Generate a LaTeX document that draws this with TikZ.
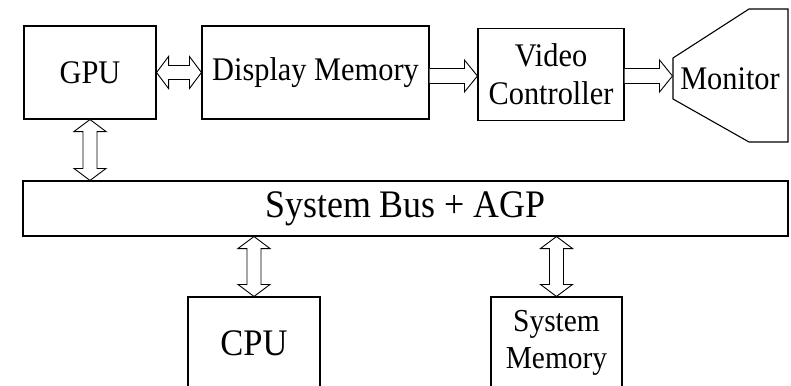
\documentclass[tikz,border=0pt]{standalone}
\usepackage{fontspec}
\setmainfont[FakeStretch=0.92]{Liberation Serif}
\usetikzlibrary{calc}
\tikzset{
  block/.style={draw, line width=1.1pt, inner sep=0pt, align=center,
    font=\fontsize{33}{38}\selectfont},
  plain/.style={inner sep=0pt, align=center, font=\fontsize{33}{38}\selectfont},
  outline/.style={draw, line width=1.1pt, line join=miter},
  fatarrow/.style={draw, line width=0.9pt, fill=white, line join=miter},
}
% hollow block arrow with heads at both ends, from #1 to #2
\newcommand\dualarrow[2]{%
  \path[fatarrow] let \p1=(#1), \p2=(#2),
    \n1={atan2(\y2-\y1,\x2-\x1)}, \n2={veclen(\x2-\x1,\y2-\y1)} in
    [shift={(\p1)}, rotate=\n1]
    (0pt,0pt) -- (12pt,16pt) -- (12pt,7pt) -- (\n2-12pt,7pt) -- (\n2-12pt,16pt)
    -- (\n2,0pt) -- (\n2-12pt,-16pt) -- (\n2-12pt,-7pt) -- (12pt,-7pt)
    -- (12pt,-16pt) -- cycle;}
% hollow block arrow with a head at #2 only
\newcommand\monoarrow[2]{%
  \path[fatarrow] let \p1=(#1), \p2=(#2),
    \n1={atan2(\y2-\y1,\x2-\x1)}, \n2={veclen(\x2-\x1,\y2-\y1)} in
    [shift={(\p1)}, rotate=\n1]
    (0pt,7.5pt) -- (\n2-13pt,7.5pt) -- (\n2-13pt,16pt) -- (\n2,0pt)
    -- (\n2-13pt,-16pt) -- (\n2-13pt,-7.5pt) -- (0pt,-7.5pt);}
\begin{document}
\begin{tikzpicture}[x=1pt,y=-1pt]
\clip (0,0) rectangle (791,385);

% graphics pipeline
\node[block, minimum width=132pt, minimum height=93pt] (gpu) at (90,72.5) {GPU};
\node[block, minimum width=227pt, minimum height=93pt] (dm) at (315.5,72.5) {Display Memory};
\node[block, minimum width=146pt, minimum height=92pt] (vc) at (551,74.5) {Video\\Controller};

% monitor outline
\draw[outline] (673,58) -- (749,9) -- (788,9) -- (788,142) -- (749,142) -- (673,99) -- cycle;
\node[plain] (mon) at (730,79) {Monitor};
\coordinate (monin) at (672.5,76);

% system bus
\node[block, minimum width=765pt, minimum height=55pt,
      font=\fontsize{39}{42}\selectfont] (bus) at (405.5,208.5) {System Bus + AGP};

% CPU and system memory
\node[block, minimum width=132pt, minimum height=92pt,
      font=\fontsize{37.5}{40}\selectfont] (cpu) at (254,343) {CPU};
\node[block, minimum width=131pt, minimum height=92pt,
      font=\fontsize{32}{37}\selectfont] (sm) at (556.5,343) {System\\Memory};

% data paths
\dualarrow{gpu.east}{dm.west}
\monoarrow{dm.east |- monin}{vc.west |- monin}
\monoarrow{vc.east |- monin}{monin}
\dualarrow{gpu.south}{gpu.south |- bus.north}
\dualarrow{cpu.north |- bus.south}{cpu.north}
\dualarrow{sm.north |- bus.south}{sm.north}
\end{tikzpicture}
\end{document}
